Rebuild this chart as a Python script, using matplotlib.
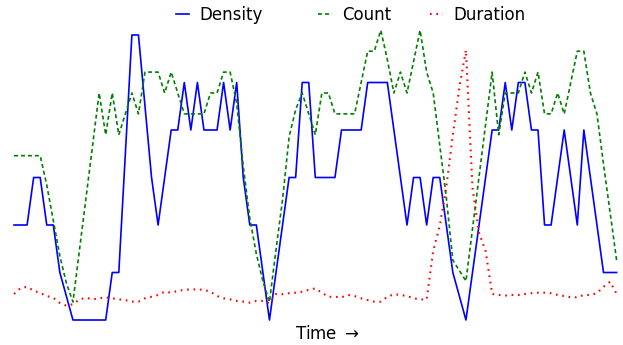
import matplotlib
matplotlib.use("Agg")
import matplotlib.pyplot as plt

plt.rcParams['font.family'] = ['DejaVu Sans']
plt.rcParams['lines.scale_dashes'] = False

time = list(range(93))

density = [2, 2, 2, 3, 3, 2, 2, 1, 0.5, 0,
           0, 0, 0, 0, 0, 1, 1, 3.5, 6, 6,
           4.5, 3, 2, 3, 4, 4, 5, 4, 5, 4,
           4, 4, 5, 4, 5, 3, 2, 2, 1, 0,
           1, 2, 3, 3, 5, 5, 3, 3, 3, 3,
           4, 4, 4, 4, 5, 5, 5, 5, 4, 3,
           2, 3, 3, 2, 3, 3, 2, 1, 0.5, 0,
           1, 2, 3, 4, 4, 5, 4, 5, 5, 4,
           4, 2, 2, 3, 4, 3, 2, 4, 3, 2,
           1, 1, 1]

count = [7, 7, 7, 7, 7, 5.6, 3.9, 2.2, 0.9, 0,
         2.5, 5, 7.5, 10, 8, 10, 8, 9, 10, 9,
         11, 11, 11, 10, 11, 10, 9, 9, 9, 9,
         10, 10, 11, 11, 9.5, 6.5, 4, 2.3, 1, 0,
         2.5, 4.9, 7.9, 9.2, 10, 9, 8, 10, 10, 9,
         9, 9, 9, 10.5, 12, 12, 13, 11.6, 10, 11,
         10, 11.5, 13, 11, 10, 7.5, 5, 2, 1.5, 1,
         3.5, 6, 8.5, 11, 8, 10, 10, 10, 11, 10,
         11, 9, 9, 10, 9, 10.5, 12, 12, 10, 9,
         6.6, 4.3, 2]

duration = [0.47, 0.70, 0.75, 0.60, 0.51, 0.39, 0.32, 0.12, 0.01, 0.07,
            0.26, 0.32, 0.26, 0.30, 0.34, 0.30, 0.26, 0.23, 0.17, 0.17,
            0.30, 0.36, 0.43, 0.56, 0.52, 0.59, 0.63, 0.65, 0.65, 0.63,
            0.56, 0.39, 0.30, 0.26, 0.20, 0.17, 0.13, 0.20, 0.20, 0.11,
            0.47, 0.46, 0.50, 0.52, 0.56, 0.63, 0.69, 0.52, 0.36, 0.36,
            0.34, 0.43, 0.39, 0.30, 0.23, 0.17, 0.17, 0.36, 0.46, 0.43,
            0.39, 0.30, 0.26, 0.25, 2.15, 3.13, 4.65, 6.68, 8.55, 10.0,
            4.61, 2.85, 2.15, 0.47, 0.43, 0.41, 0.43, 0.43, 0.47, 0.50,
            0.52, 0.52, 0.50, 0.43, 0.39, 0.34, 0.34, 0.43, 0.43, 0.50,
            0.75, 0.95, 0.47]

labels = ["Density", "Count", "Duration"]

W, H = 623, 345
fig = plt.figure(figsize=(W / 100, H / 100), dpi=100)

step = 6.55
left_px = 14 - step
ax = fig.add_axes([left_px / W, 15 / H, (94 * step) / W, 305 / H])
ax2 = ax.twinx()
ax3 = ax.twinx()

l1, = ax.plot(time, density, color='#0000ff', lw=1.2, label=labels[0])
l2, = ax2.plot(time, count, color='#008000', lw=1.2, linestyle=(0, (2.9, 2.1)), label=labels[1])
l3, = ax3.plot(time, duration, color='#ff0000', lw=1.5, linestyle=(0, (1.2, 3.4)), label=labels[2])

ax.set_xlim(-1, 93)
ax.set_ylim(-0.2105, 6.2105)
ax2.set_ylim(-1.340, 13.253)
ax3.set_ylim(-0.9375, 10.977)

for a in (ax, ax2, ax3):
    for s in a.spines.values():
        s.set_visible(False)
    a.set_xticks([])
    a.set_yticks([])
    a.patch.set_visible(False)

ax.set_xlabel('Time $\\rightarrow$', fontsize=12)
ax.xaxis.label.set_va('center')
ax.xaxis.set_label_coords(327.5 / W, 11 / H, transform=fig.transFigure)

handle_x = [175.7, 318.3, 430.0]
for line, lab, hx in zip([l1, l2, l3], labels, handle_x):
    fig.legend(handles=[line], labels=[lab], loc='center left',
               bbox_to_anchor=(hx / W, 1 - 15 / H), frameon=False,
               borderpad=0, borderaxespad=0, handlelength=0.8,
               handletextpad=0.6, fontsize=12)

fig.savefig('out.png', dpi=100)
